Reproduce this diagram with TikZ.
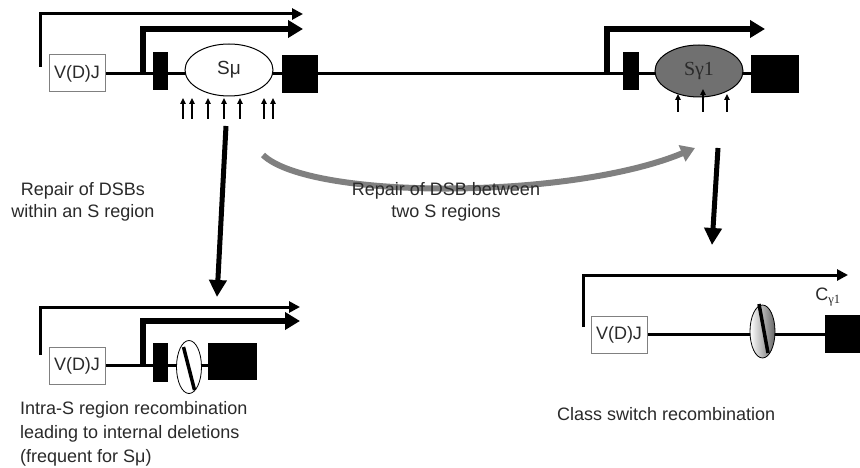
\documentclass[tikz,border=0pt]{standalone}
\usepackage{fontspec}
\setmainfont{Liberation Sans}
\newfontfamily\serifg{Liberation Serif}
\usetikzlibrary{arrows.meta,shapes.geometric,backgrounds}
\definecolor{txt}{HTML}{2A2A2A}
\definecolor{arcgray}{HTML}{808080}
\definecolor{sgray}{HTML}{707070}
\begin{document}
\begin{tikzpicture}[x=1pt,y=-1pt,
 lbl/.style={font=\fontsize{18}{22}\selectfont, align=center, inner sep=0, text=txt},
 vdj/.style={draw=gray, line width=1pt, fill=white, minimum width=56pt, minimum height=37pt, inner sep=0, font=\fontsize{18}{20}\selectfont, text=txt},
 blk/.style={fill=black, inner sep=0, draw=none},
 sreg/.style={ellipse, draw, line width=1pt, inner sep=0, minimum width=88pt, minimum height=52pt},
 joint/.style={ellipse, draw, line width=0.8pt, inner sep=0, minimum width=25pt, minimum height=53pt},
 dna/.style={line width=2.5pt},
 outerarr/.style={line width=3pt, -{Triangle[length=11pt,width=11pt]}},
 innerarr/.style={line width=5.5pt, -{Triangle[length=15pt,width=17pt]}},
 tickarr/.style={line width=1.6pt, -{Triangle[length=6pt,width=5.5pt]}},
 bigdown/.style={line width=5pt, -{Triangle[length=17pt,width=17pt]}},
 slash/.style={line width=3.5pt},
]
\begin{pgfonlayer}{background}
\fill[white] (0,0) rectangle (860,468);
\end{pgfonlayer}
\useasboundingbox (0,0) rectangle (860,468);

% ---------- top construct ----------
\node[vdj] (v1) at (77,73.5) {V(D)J};
\node[blk, minimum width=15pt, minimum height=38pt] (a1) at (160.5,71) {};
\node[sreg, fill=white] (s1) at (229,70) {\fontsize{19}{19}\selectfont\color{txt}Sμ};
\node[blk, minimum width=36pt, minimum height=38pt] (b1) at (300,74) {};
\node[blk, minimum width=16pt, minimum height=38pt] (a2) at (631,71) {};
\node[sreg, fill=sgray] (s2) at (699,71) {\serifg\fontsize{20}{20}\selectfont\color{txt}Sγ1};
\node[blk, minimum width=48pt, minimum height=38pt] (b2) at (775,74) {};
\begin{pgfonlayer}{background}
\draw[dna] (v1.east) -- (v1.east -| b2.west);
\end{pgfonlayer}

\coordinate (o1s) at (40,67);
\coordinate (o1e) at (303,14);
\draw[outerarr] (o1s) |- (o1e);
\coordinate (i1s) at (143,74);
\coordinate (i1e) at (303,29);
\draw[innerarr] (i1s) |- (i1e);
\coordinate (i2s) at (607,74);
\coordinate (i2e) at (765,29);
\draw[innerarr] (i2s) |- (i2e);

\foreach \xx in {183,192,208,224,240,264,273}
  \draw[tickarr] (\xx,119) -- (\xx,98);
\draw[tickarr] (678,112) -- (678,94);
\draw[tickarr] (703,112) -- (703,89);
\draw[tickarr] (727,112) -- (727,94);

% ---------- connectors ----------
\coordinate (d1s) at (226,126);
\coordinate (d1e) at (217,297);
\draw[bigdown] (d1s) -- (d1e);
\coordinate (d2s) at (718,148);
\coordinate (d2e) at (712,245);
\draw[bigdown] (d2s) -- (d2e);
\coordinate (cs) at (263,155);
\coordinate (ce) at (695,148);
\draw[arcgray, line width=6pt, -{Triangle[length=14pt,width=17pt]}] (cs) .. controls (310,200) and (570,200) .. (ce);

\node[lbl] (t1) at (83,202) {Repair of DSBs\\within an S region};
\node[lbl] (t2) at (446,202) {Repair of DSB between\\two S regions};

% ---------- bottom left ----------
\node[vdj] (v3) at (77,365.5) {V(D)J};
\node[blk, minimum width=15pt, minimum height=39pt] (a3) at (160.5,362.5) {};
\node[joint, fill=white] (s3) at (189,367) {};
\node[blk, minimum width=49pt, minimum height=37pt] (b3) at (232.5,361.5) {};
\begin{pgfonlayer}{background}
\draw[dna] (v3.east) -- (v3.east -| b3.west);
\end{pgfonlayer}
\draw[slash] (183.5,347) -- (194.5,390);
\coordinate (o3s) at (40,355);
\coordinate (o3e) at (300,307);
\draw[outerarr] (o3s) |- (o3e);
\coordinate (i3s) at (143,365);
\coordinate (i3e) at (300,321);
\draw[innerarr] (i3s) |- (i3e);
\node[lbl, align=left, anchor=west, font=\fontsize{18}{24}\selectfont] (t3) at (20,434)
  {Intra-S region recombination\\leading to internal deletions\\(frequent for Sμ)};

% ---------- bottom right ----------
\node[vdj] (v4) at (619,334.5) {V(D)J};
\node[joint, left color=white, right color=gray!80!black] (s4) at (762.5,331.5) {};
\node[blk, minimum width=36pt, minimum height=38pt] (b4) at (843,334) {};
\begin{pgfonlayer}{background}
\draw[dna] (v4.east) -- (v4.east -| b4.west);
\end{pgfonlayer}
\draw[slash] (759,304) -- (768,353);
\coordinate (o4s) at (583,327);
\coordinate (o4e) at (848,275);
\draw[outerarr] (o4s) |- (o4e);
\node[inner sep=0, text=txt, font=\fontsize{18}{20}\selectfont] (c4) at (828,297) {C\textsubscript{\serifg γ1}};
\node[lbl, anchor=west] (t4) at (557,414) {Class switch recombination};
\end{tikzpicture}
\end{document}
